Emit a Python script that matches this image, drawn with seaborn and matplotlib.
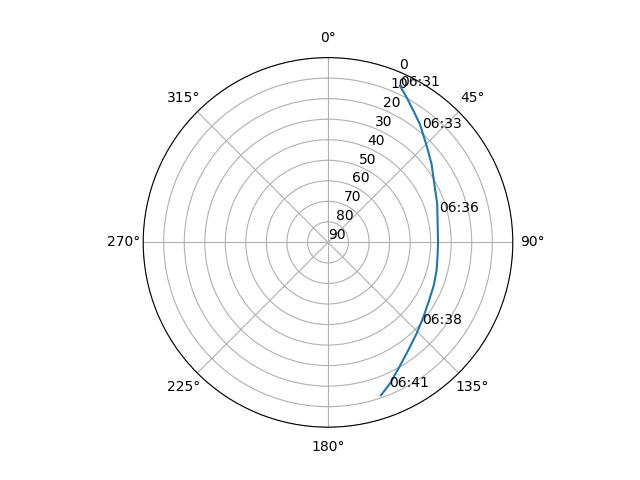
import numpy as np
import seaborn as sns
import matplotlib.pyplot as plt

# satellite pass track (azimuth deg, elevation deg)
track_az = [24.6, 28.4, 32.9, 38.0, 46.0, 52.8, 62.0, 70.5, 79.5, 90.7,
            97.7, 104.4, 112.0, 120.1, 128.1, 135.8, 143.4, 150.2,
            156.3, 160.9]
track_el = [6.0, 9.6, 13.5, 17.2, 23.0, 26.7, 31.2, 33.6, 35.7, 36.4,
            36.2, 35.4, 34.4, 33.2, 31.0, 28.1, 24.5, 20.1,
            14.9, 11.2]

# time labels along the pass
label_az = [24.6, 39.3, 74.9, 131.1, 157.2]
label_el = [6.0, 17.8, 34.0, 29.3, 13.5]
label_txt = ["06:31", "06:33", "06:36", "06:38", "06:41"]

fig, ax = plt.subplots(figsize=(6.4, 4.8), dpi=100, subplot_kw={'projection': 'polar'})
ax.set_theta_zero_location('N')
ax.set_theta_direction(-1)

sns.lineplot(x=np.radians(track_az), y=track_el, ax=ax, sort=False, color='C0')

for az, el, t in zip(label_az, label_el, label_txt):
    ax.text(np.radians(az), el, t)

ax.set_rlim(90, 0)
ax.set_yticks(range(0, 91, 10))
ax.set_xlabel('')
ax.set_ylabel('')
ax.grid(True)

plt.savefig("out.png")
